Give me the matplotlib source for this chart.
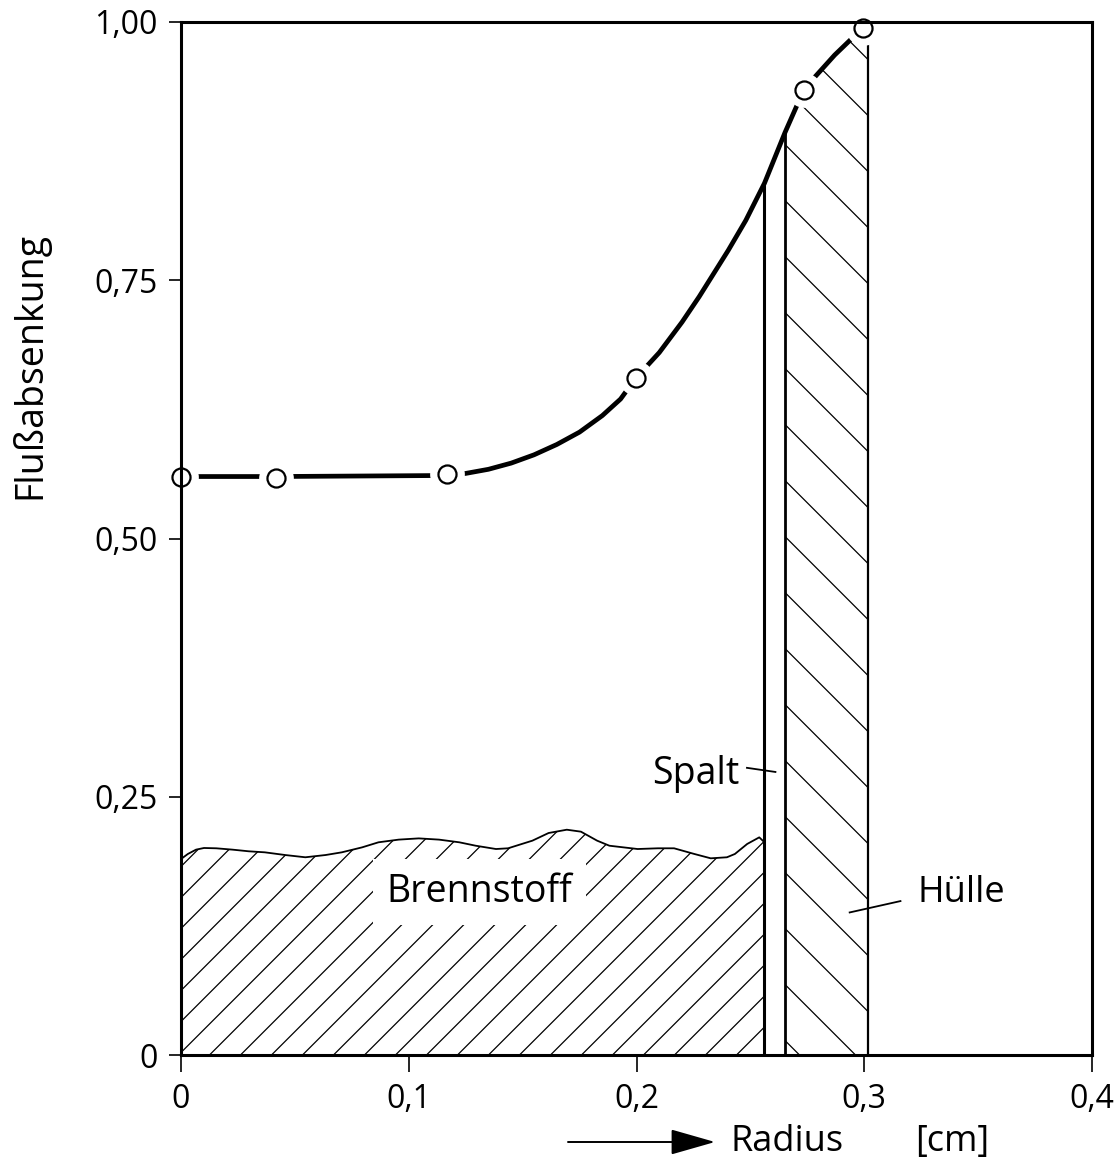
import numpy as np
import matplotlib
matplotlib.use('Agg')
import matplotlib.pyplot as plt
from matplotlib.patches import Polygon
from matplotlib.collections import LineCollection

plt.rcParams['font.family'] = ['Open Sans', 'DejaVu Sans']

# flux depression curve (radius in cm, relative flux)
curve_r = [0.0, 0.0418, 0.1167, 0.125, 0.135, 0.145, 0.155, 0.165, 0.175,
           0.185, 0.193, 0.1996, 0.21, 0.22, 0.2275, 0.2403, 0.248, 0.2562,
           0.2652, 0.2734, 0.278, 0.287, 0.295, 0.2996]
curve_f = [0.560, 0.560, 0.561, 0.563, 0.567, 0.573, 0.581, 0.591, 0.603,
           0.619, 0.635, 0.655, 0.680, 0.7095, 0.734, 0.779, 0.808, 0.844,
           0.893, 0.934, 0.946, 0.968, 0.985, 0.994]

# measured points
pts_r = [0.0, 0.0418, 0.1167, 0.1996, 0.2734, 0.2996]
pts_f = [0.560, 0.559, 0.562, 0.655, 0.934, 0.994]

# fuel surface (wavy top)
fuel_r = [0.0, 0.0030, 0.0066, 0.0101, 0.0155, 0.0226, 0.0297, 0.0368, 0.0457,
          0.0546, 0.0635, 0.0706, 0.0795, 0.0867, 0.0956, 0.1044, 0.1133,
          0.1222, 0.1294, 0.1383, 0.1436, 0.1543, 0.1614, 0.1694, 0.1756,
          0.1827, 0.1881, 0.2005, 0.2094, 0.2165, 0.2254, 0.2326, 0.2397,
          0.2432, 0.2486, 0.2539, 0.2562]
fuel_top = [0.1897, 0.1946, 0.1988, 0.2004, 0.2001, 0.1988, 0.1972, 0.1962,
            0.1936, 0.1914, 0.1936, 0.1962, 0.2010, 0.2059, 0.2085, 0.2097,
            0.2085, 0.2059, 0.2026, 0.1994, 0.2001, 0.2075, 0.2149, 0.2181,
            0.2162, 0.2075, 0.2026, 0.1994, 0.2001, 0.2001, 0.1946, 0.1904,
            0.1914, 0.1946, 0.2043, 0.2107, 0.2059]

# gap and cladding boundaries
gap_in, gap_in_top = 0.2562, 0.844
clad_in, clad_in_top = 0.2652, 0.893
clad_out, clad_out_top = 0.3017, 1.0

xticks = [0, 0.1, 0.2, 0.3, 0.4]
xlabels = ['0', '0,1', '0,2', '0,3', '0,4']
yticks = [0, 0.25, 0.5, 0.75, 1.0]
ylabels = ['0', '0,25', '0,50', '0,75', '1,00']

W, H = 1119, 1170
fig = plt.figure(figsize=(W / 100, H / 100), dpi=100)
ax = fig.add_axes([181 / W, 1 - 1055 / H, (1092 - 181) / W, (1055 - 22) / H])
ax.set_xlim(0, 0.4)
ax.set_ylim(0, 1.0)

# pixels per data unit, for 45 degree hatching
kx = (1092 - 181) / 0.4
ky = (1055 - 22) / 1.0


def hatch(patch, step_px, rising):
    segs = []
    dx = ky / kx
    for x0 in np.arange(-0.6, 0.6, step_px / kx):
        if rising:
            segs.append([(x0, 0), (x0 + dx, 1)])
        else:
            segs.append([(x0 + dx, 0), (x0, 1)])
    lc = LineCollection(segs, colors='k', linewidths=0.9, zorder=1.5)
    ax.add_collection(lc)
    lc.set_clip_path(patch)


# fuel
fuel_poly = [(0, 0)] + list(zip(fuel_r, fuel_top)) + [(gap_in, 0)]
fuel = Polygon(fuel_poly, closed=True, facecolor='none', edgecolor='k',
               lw=1.3, zorder=1.6, joinstyle='round')
ax.add_patch(fuel)
hatch(fuel, 31, True)

# cladding, bounded above by the flux curve
cr = np.array(curve_r)
cf = np.array(curve_f)
m = (cr > clad_in) & (cr < clad_out)
clad_poly = ([(clad_in, 0), (clad_in, clad_in_top)] + list(zip(cr[m], cf[m]))
             + [(clad_out, clad_out_top), (clad_out, 0)])
clad = Polygon(clad_poly, closed=True, facecolor='none', edgecolor='none')
ax.add_patch(clad)
hatch(clad, 56, False)

ax.plot([gap_in, gap_in], [0, gap_in_top], color='k', lw=2.2, zorder=2)
ax.plot([clad_in, clad_in], [0, clad_in_top], color='k', lw=2.0, zorder=2)
ax.plot([clad_out, clad_out], [0, clad_out_top], color='k', lw=1.6, zorder=2)

# curve with open circles, line broken around the circles
ax.plot(curve_r, curve_f, color='k', lw=3.4, solid_capstyle='butt',
        solid_joinstyle='round', zorder=2, clip_on=False)
ax.plot(pts_r, pts_f, 'o', ms=25, mfc='white', mec='none', zorder=2.2, clip_on=False)
ax.plot(pts_r, pts_f, 'o', ms=13, mfc='none', mec='k', mew=1.6, zorder=3, clip_on=False)

# labels inside
ax.text(0.131, 0.158, 'Brennstoff', fontsize=27, ha='center', va='center',
        bbox=dict(facecolor='white', edgecolor='none', pad=10), zorder=1.8)
ax.text(0.2451, 0.272, 'Spalt', fontsize=27, ha='right', va='center')
ax.plot([0.2485, 0.261], [0.278, 0.274], color='k', lw=1.3)
ax.text(0.3236, 0.157, 'Hülle', fontsize=26, ha='left', va='center')
ax.plot([0.2936, 0.3159], [0.138, 0.149], color='k', lw=1.3)

for s in ax.spines.values():
    s.set_linewidth(2.2)
ax.set_xticks(xticks, xlabels)
ax.set_yticks(yticks, ylabels)
ax.tick_params(axis='x', direction='out', length=12, width=1.2, pad=8, labelsize=23)
ax.tick_params(axis='y', direction='out', length=9, width=1.2, pad=8, labelsize=23)

fig.text(30 / W, 1 - 365 / H, 'Flußabsenkung', rotation=90, ha='center',
         va='center', fontsize=27)
fig.text(730 / W, 1 - 1142 / H, 'Radius', ha='left', va='center', fontsize=26)
fig.text(915 / W, 1 - 1142 / H, '[cm]', ha='left', va='center', fontsize=26)
ax.annotate('', xy=(715 / W, 1 - 1142 / H), xytext=(568 / W, 1 - 1142 / H),
            xycoords='figure fraction', textcoords='figure fraction',
            arrowprops=dict(arrowstyle='-|>,head_length=1.4,head_width=0.4',
                            mutation_scale=20, lw=1.4, color='k',
                            shrinkA=0, shrinkB=0))

fig.savefig('out.png', dpi=100)
